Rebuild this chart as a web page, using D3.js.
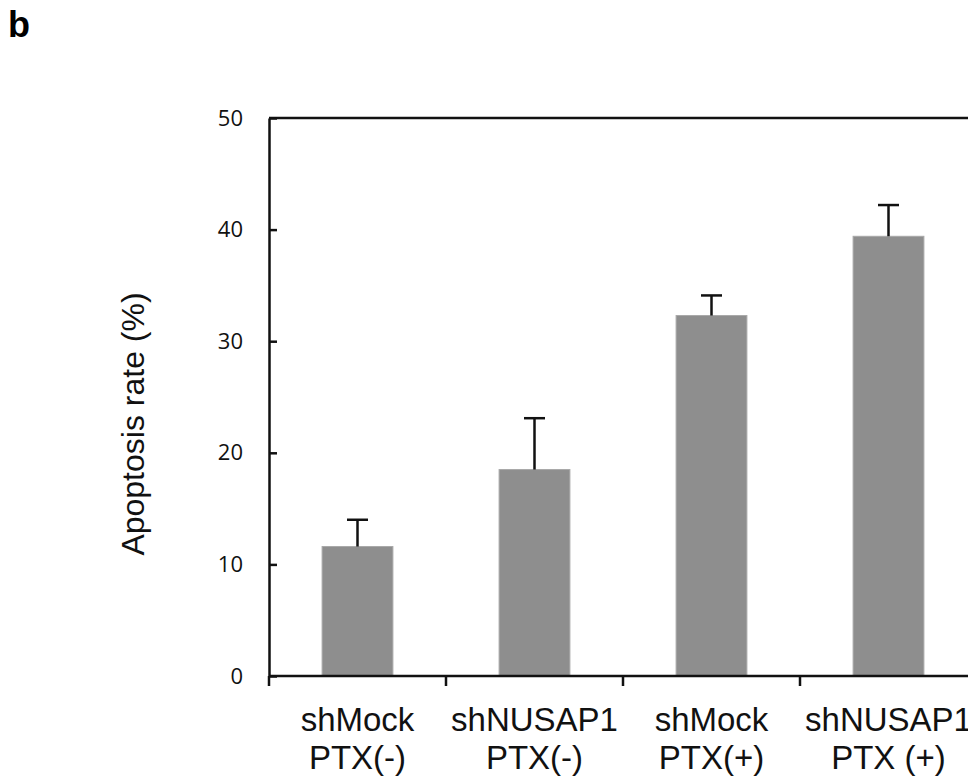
<!DOCTYPE html>
<html>
<head>
<meta charset="utf-8">
<script src="https://cdn.jsdelivr.net/npm/d3@7"></script>
<style>
  body { margin: 0; background: #fff; }
  svg { display: block; }
</style>
</head>
<body>
<div id="chart"></div>
<script>
// values
var groupNames = ["shMock", "shNUSAP1", "shMock", "shNUSAP1"];
var treatments = ["PTX(-)", "PTX(-)", "PTX(+)", "PTX (+)"];
var means = [11.6, 18.5, 32.3, 39.4];
var errors = [2.4, 4.6, 1.8, 2.8];
var yTicks = [0, 10, 20, 30, 40, 50];

var width = 968,
    height = 780,
    plotLeft = 269,
    plotRight = 977,
    plotTop = 118,
    plotBottom = 676;

var svg = d3.select("#chart").append("svg")
  .attr("width", width)
  .attr("height", height);

var idx = d3.range(means.length);

var x = d3.scaleBand()
  .domain(idx)
  .range([plotLeft, plotRight]);

var y = d3.scaleLinear()
  .domain([0, 50])
  .range([plotBottom, plotTop]);

var barW = x.bandwidth() * 0.4;

// panel letter
svg.append("text")
  .attr("x", 8)
  .attr("y", 37)
  .style("font-family", "Liberation Sans, Arial, sans-serif")
  .style("font-weight", "bold")
  .style("font-size", "36px")
  .text("b");

// bars
svg.selectAll(".bar")
  .data(idx)
  .enter().append("rect")
  .attr("class", "bar")
  .attr("x", function(i) { return x(i) + (x.bandwidth() - barW) / 2; })
  .attr("width", barW)
  .attr("y", function(i) { return y(means[i]); })
  .attr("height", function(i) { return y(0) - y(means[i]); })
  .style("fill", "#8e8e8e")
  .style("stroke", "#a8a8a8")
  .style("stroke-width", 1);

// error bars (upper only)
var err = svg.selectAll(".err")
  .data(idx)
  .enter().append("g")
  .attr("class", "err")
  .style("stroke", "#111")
  .style("stroke-width", 2.5);

err.append("line")
  .attr("x1", function(i) { return x(i) + x.bandwidth() / 2; })
  .attr("x2", function(i) { return x(i) + x.bandwidth() / 2; })
  .attr("y1", function(i) { return y(means[i]); })
  .attr("y2", function(i) { return y(means[i] + errors[i]); });

err.append("line")
  .attr("x1", function(i) { return x(i) + x.bandwidth() / 2 - 10.5; })
  .attr("x2", function(i) { return x(i) + x.bandwidth() / 2 + 10.5; })
  .attr("y1", function(i) { return y(means[i] + errors[i]); })
  .attr("y2", function(i) { return y(means[i] + errors[i]); });

// top border of plot area
svg.append("line")
  .attr("x1", plotLeft)
  .attr("x2", plotRight)
  .attr("y1", y(50))
  .attr("y2", y(50))
  .style("stroke", "#111")
  .style("stroke-width", 2.5);

// y axis
var yAxis = svg.append("g")
  .attr("transform", "translate(" + plotLeft + ",0)")
  .call(d3.axisLeft(y).tickValues(yTicks).tickSize(-8).tickSizeOuter(0).tickPadding(26));

yAxis.select(".domain").style("stroke", "#111").style("stroke-width", 2.5);
yAxis.selectAll(".tick line").style("stroke", "#111").style("stroke-width", 2.5);
yAxis.selectAll(".tick text")
  .style("font-family", "Open Sans, sans-serif")
  .style("font-size", "22px")
  .style("fill", "#111");

// x axis line and boundary ticks
svg.append("line")
  .attr("x1", plotLeft)
  .attr("x2", plotRight)
  .attr("y1", plotBottom)
  .attr("y2", plotBottom)
  .style("stroke", "#111")
  .style("stroke-width", 2.5);

svg.selectAll(".xtick")
  .data(idx.concat([idx.length]))
  .enter().append("line")
  .attr("class", "xtick")
  .attr("x1", function(i) { return i < idx.length ? x(i) : plotRight; })
  .attr("x2", function(i) { return i < idx.length ? x(i) : plotRight; })
  .attr("y1", plotBottom)
  .attr("y2", plotBottom + 10)
  .style("stroke", "#111")
  .style("stroke-width", 2.5);

// x labels
var lab = svg.selectAll(".xlab")
  .data(idx)
  .enter().append("text")
  .attr("class", "xlab")
  .attr("text-anchor", "middle")
  .style("font-family", "Liberation Sans, Arial, sans-serif")
  .style("font-size", "33px")
  .style("fill", "#111");

lab.append("tspan")
  .attr("x", function(i) { return x(i) + x.bandwidth() / 2; })
  .attr("y", 731)
  .text(function(i) { return groupNames[i]; });

lab.append("tspan")
  .attr("x", function(i) { return x(i) + x.bandwidth() / 2; })
  .attr("y", 769)
  .text(function(i) { return treatments[i]; });

// y label
svg.append("text")
  .attr("transform", "translate(144,424) rotate(-90)")
  .attr("text-anchor", "middle")
  .style("font-family", "Liberation Sans, Arial, sans-serif")
  .style("font-size", "32px")
  .style("fill", "#111")
  .text("Apoptosis rate (%)");
</script>
</body>
</html>
